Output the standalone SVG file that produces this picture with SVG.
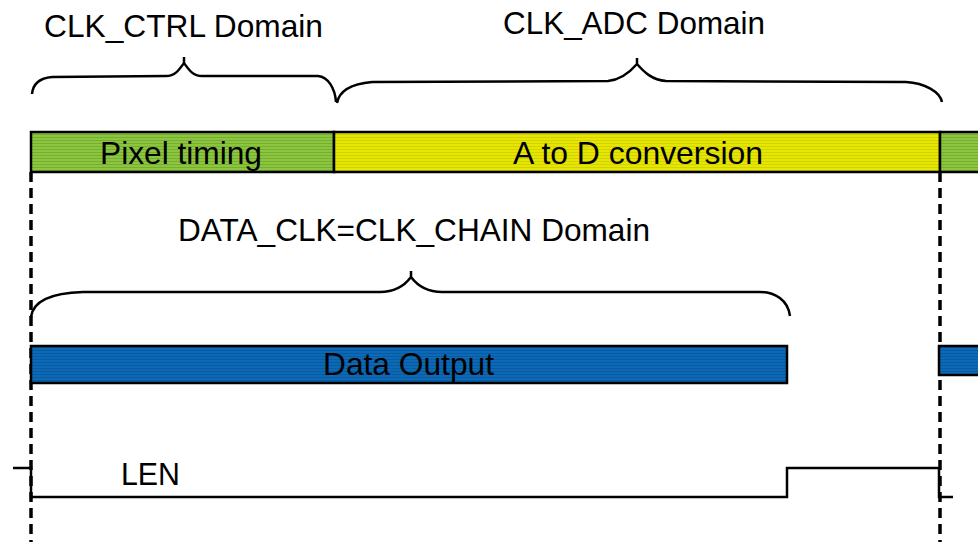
<svg xmlns="http://www.w3.org/2000/svg" width="978" height="542" viewBox="0 0 978 542">
<style>
text{font-family:"Liberation Sans",Arial,sans-serif;font-size:30.5px;fill:#000}
.bar{stroke:#000;stroke-width:2.5}
.brace{fill:none;stroke:#000;stroke-width:2.5;stroke-linejoin:round}
.dash{fill:none;stroke:#000;stroke-width:3.5;stroke-dasharray:10 6}
.wave{fill:none;stroke:#000;stroke-width:2.5}
</style>
<defs>
<pattern id="pg" width="4" height="3" patternUnits="userSpaceOnUse"><rect width="4" height="3" fill="#8cc63f"/><rect y="2" width="4" height="1" fill="#76ad33"/></pattern>
<pattern id="py" width="4" height="3" patternUnits="userSpaceOnUse"><rect width="4" height="3" fill="#e6e600"/><rect y="2" width="4" height="1" fill="#d2d200"/></pattern>
<pattern id="pb" width="4" height="3" patternUnits="userSpaceOnUse"><rect width="4" height="3" fill="#0b69b8"/><rect y="2" width="4" height="1" fill="#0a5a9e"/></pattern>
</defs>
<rect width="978" height="542" fill="#fff"/>
<g id="connectors">
<path class="dash" d="M31,172 V542"/>
<path class="dash" d="M940,172 V542"/>
<path class="wave" d="M13,468 H31 V497 H787 V468 H939 V497 H953"/>
</g>
<g id="brace-ctrl">
<path class="brace" d="M32,94 C33,84 40,78 52,77 L166,76 C175,76 179,70 184,63 L184,57 M184,63 C189,70 193,76 202,76 L318,76 C328,77 335,88 336,102"/>
<text x="44" y="37" textLength="279" lengthAdjust="spacingAndGlyphs">CLK_CTRL Domain</text>
</g>
<g id="brace-adc">
<path class="brace" d="M337,103 C339,92 350,84 372,82 L608,81 C620,80 630,72 637,64 L637,58 M637,64 C644,72 652,80 666,81 L906,82 C925,83 940,92 942,102"/>
<text x="503" y="34" textLength="262" lengthAdjust="spacingAndGlyphs">CLK_ADC Domain</text>
</g>
<g id="pixel-timing">
<rect class="bar" x="31" y="132" width="303" height="40" fill="url(#pg)"/>
<text x="100" y="164" textLength="162" lengthAdjust="spacingAndGlyphs">Pixel timing</text>
</g>
<g id="ad-conversion">
<rect class="bar" x="334" y="132" width="606" height="40" fill="url(#py)"/>
<text x="513" y="164" textLength="250" lengthAdjust="spacingAndGlyphs">A to D conversion</text>
</g>
<g id="pixel-timing-next">
<rect class="bar" x="940" y="132" width="40" height="40" fill="url(#pg)"/>
</g>
<g id="brace-chain">
<path class="brace" d="M31,317 C33,301 50,293 83,292 L380,292 C395,292 405,285 411,277 L411,271 M411,277 C417,285 427,292 442,292 L760,292 C775,292 788,300 790,316"/>
<text x="178" y="241" textLength="472" lengthAdjust="spacingAndGlyphs">DATA_CLK=CLK_CHAIN Domain</text>
</g>
<g id="data-output">
<rect class="bar" x="31" y="346" width="756" height="37" fill="url(#pb)"/>
<text x="323" y="375" textLength="171" lengthAdjust="spacingAndGlyphs">Data Output</text>
</g>
<g id="data-output-next">
<rect class="bar" x="939" y="346" width="41" height="29" fill="url(#pb)"/>
</g>
<g id="len">
<text x="121" y="485" textLength="59" lengthAdjust="spacingAndGlyphs">LEN</text>
</g>
</svg>
